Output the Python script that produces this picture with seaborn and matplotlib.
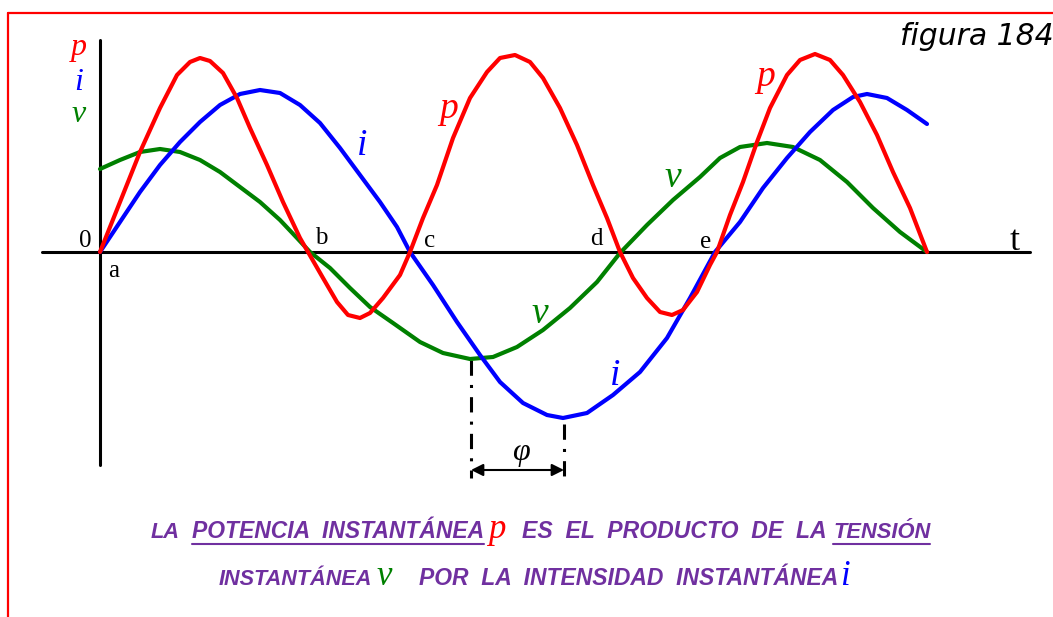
import numpy as np
import pandas as pd
import matplotlib
matplotlib.use("Agg")
import matplotlib.pyplot as plt
from matplotlib.lines import Line2D
import seaborn as sns

# ====== valores (origen en el punto "a", unidades ~ pixeles) ======
# tension v (verde)
v_x = [0, 20, 40, 60, 80, 100, 120, 140, 160, 180, 197, 210, 230, 250, 270, 293, 320, 343,
       370, 393, 417, 443, 470, 497, 520, 547, 573, 600, 620, 640, 667, 693, 720, 747, 773,
       800, 827]
v_y = [83, 92, 100, 103, 100, 92, 80, 65, 50, 32, 14, 0, -16, -36, -55, -71, -90, -101,
       -107, -105, -95, -78, -56, -30, -1, 27, 52, 75, 94, 105, 109, 105, 92, 70, 44,
       20, 0]

# intensidad i (azul)
i_x = [0, 20, 40, 60, 80, 100, 120, 140, 160, 180, 200, 220, 240, 260, 280, 297, 310, 333,
       357, 380, 400, 423, 447, 463, 487, 513, 540, 567, 590, 615, 640, 663, 687, 710, 733,
       753, 767, 787, 807, 827]
i_y = [0, 30, 60, 87, 110, 130, 147, 158, 162, 159, 147, 129, 104, 77, 50, 25, 0, -33,
       -70, -103, -130, -151, -163, -166, -161, -143, -120, -86, -46, 0, 30, 64, 94, 120, 142,
       155, 158, 154, 142, 128]

# potencia p (rojo)
p_x = [0, 20, 40, 60, 77, 90, 100, 110, 123, 137, 150, 167, 183, 200, 208, 223, 237, 248,
       260, 270, 283, 300, 310, 323, 337, 353, 370, 387, 400, 415, 430, 443, 460, 477, 493,
       507, 520, 533, 547, 560, 572, 583, 597, 610, 617, 630, 643, 657, 670, 687, 700, 715,
       730, 743, 760, 777, 793, 810, 827]
p_y = [0, 50, 100, 144, 177, 190, 194, 191, 179, 154, 124, 87, 50, 14, 0, -26, -50, -63,
       -66, -61, -46, -23, 0, 34, 67, 114, 154, 180, 194, 197, 190, 174, 144, 107, 67,
       34, 0, -26, -46, -60, -63, -58, -40, -13, 0, 37, 70, 110, 144, 177, 192, 198,
       192, 177, 150, 117, 80, 44, 0]

curve_names = ["v", "i", "p"]
curve_colors = {"v": "#008000", "i": "#0000FF", "p": "#FF0000"}

# etiquetas sobre las curvas: (texto, x, y base)
curve_labels = [("i", 262, 97), ("p", 349, 134), ("v", 573, 65),
                ("v", 440, -71), ("i", 515, -133), ("p", 666, 166)]
point_labels = [("0", -15, 5), ("a", 14, -25), ("b", 221, 8), ("c", 330, 5),
                ("d", 496, 7), ("e", 606, 4)]

# ================== armar tabla ==================
df = pd.concat([
    pd.DataFrame({"x": v_x, "y": v_y, "curve": "v"}),
    pd.DataFrame({"x": i_x, "y": i_y, "curve": "i"}),
    pd.DataFrame({"x": p_x, "y": p_y, "curve": "p"}),
], ignore_index=True)

sns.set_style("white")

fig = plt.figure(figsize=(10.53, 6.17), dpi=100)
ax = fig.add_axes([0, 0, 1, 1])
ax.set_xlim(-100, 953)
ax.set_ylim(-365, 252)
ax.axis("off")

# ejes del dibujo
ax.plot([-58, 930], [0, 0], color="black", lw=2.2, zorder=1)
ax.plot([0, 0], [212, -213], color="black", lw=2.2, zorder=1)

sns.lineplot(data=df, x="x", y="y", hue="curve", hue_order=curve_names,
             palette=curve_colors, sort=False, estimator=None, linewidth=3,
             legend=False, ax=ax, zorder=3)
for ln in ax.lines:
    ln.set_solid_capstyle("round")
    ln.set_solid_joinstyle("round")

serif = "Liberation Serif"
for txt, x, y in curve_labels:
    ax.text(x, y, txt, color=curve_colors[txt], fontsize=27, family=serif,
            style="italic", ha="center", va="baseline", zorder=5)

# letras p i v arriba a la izquierda
for txt, y in [("p", 197), ("i", 162), ("v", 130)]:
    ax.text(-21, y, txt, color=curve_colors[txt], fontsize=23, family=serif,
            style="italic", ha="center", va="baseline")

for txt, x, y in point_labels:
    ax.text(x, y, txt, color="black", fontsize=18, family=serif, ha="center", va="baseline")
ax.text(915, 2, "t", color="black", fontsize=26, family=serif, ha="center", va="baseline")

# angulo phi
phi_left, phi_right = 371, 464
ax.plot([phi_left, phi_left], [-108, -226], color="black", lw=2.2,
        linestyle=(0, (5, 3, 1, 3)), zorder=2)
ax.plot([phi_right, phi_right], [-172, -228], color="black", lw=2.2,
        linestyle=(0, (5, 3, 1, 3)), zorder=2)
ax.annotate("", xy=(phi_left, -218), xytext=(phi_right, -218),
            arrowprops=dict(arrowstyle="<|-|>", color="black", lw=1.5,
                            mutation_scale=18, shrinkA=0, shrinkB=0))
ax.text(421, -208, "φ", color="black", fontsize=23, family=serif, style="italic",
        ha="center", va="baseline")

# figura 184
ax.text(800, 207, "figura 184", color="black", fontsize=21.5, family="DejaVu Sans",
        style="italic", ha="left", va="baseline")

# marco rojo
fig.add_artist(Line2D([8 / 1053, 1], [1 - 13 / 617, 1 - 13 / 617],
                      transform=fig.transFigure, color="red", lw=1.6))
fig.add_artist(Line2D([8 / 1053, 8 / 1053], [1 - 13 / 617, 0],
                      transform=fig.transFigure, color="red", lw=1.6))

# ================== leyenda inferior ==================
purple = "#7030A0"
cap_font = "Liberation Sans"
cap_size = 16.5

# (texto, x inicio, x fin, subrayado / letra de color)
line1 = [("LA", 51, 80, None), ("POTENCIA  INSTANTÁNEA", 92, 384, "u"), ("p", 388, None, "p"),
         ("ES  EL  PRODUCTO  DE  LA", 422, 727, None), ("TENSIÓN", 733, 830, "u")]
line2 = [("INSTANTÁNEA", 119, 272, None), ("v", 277, None, "v"),
         ("POR  LA  INTENSIDAD  INSTANTÁNEA", 319, 738, None), ("i", 740, None, "i")]

renderer = fig.canvas.get_renderer()
px_per_unit = ax.transData.transform((1, 0))[0] - ax.transData.transform((0, 0))[0]
for pieces, base in [(line1, -286), (line2, -333)]:
    for txt, x0, x1, extra in pieces:
        if extra in curve_colors:
            ax.text(x0, base, txt, color=curve_colors[extra], fontsize=25, family=serif,
                    style="italic", ha="left", va="baseline")
            continue
        t = ax.text(x0, base, txt, color=purple, fontsize=cap_size, family=cap_font,
                    weight="bold", style="italic", ha="left", va="baseline")
        # ajustar al ancho del original (letra estrecha)
        w = t.get_window_extent(renderer).width
        t.set_fontsize(min(cap_size * (x1 - x0) * px_per_unit / w, cap_size + 1))
        if extra == "u":
            ax.plot([x0, x1], [base - 6, base - 6], color=purple, lw=1.5)

fig.savefig("out.png", dpi=100)
